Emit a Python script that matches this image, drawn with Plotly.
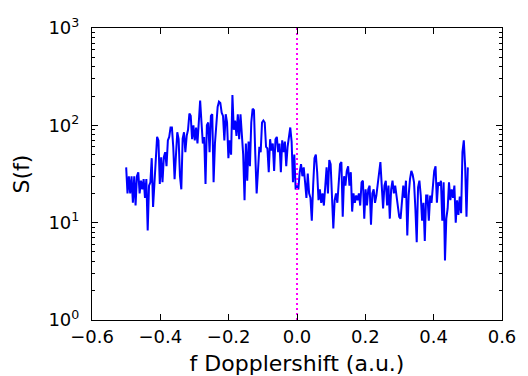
import numpy as np
import plotly.graph_objects as go

# S(f) readings along the frequency grid (-0.5 .. 0.5)
S = [37, 20, 30, 20, 30, 16, 30, 15, 30, 33, 20, 27, 22, 28, 18, 28, 8.3, 24, 26, 46,
     14.5, 26, 42, 76, 70, 25, 47, 26, 47, 53, 38, 70, 76, 95, 95, 60, 28, 53, 85, 72,
     30, 22,
     73, 85, 53, 78, 90, 132, 125, 72, 100, 70, 95, 65, 122, 180, 107, 65, 76, 25, 100, 107,
     53, 125, 130, 26, 65, 107, 155, 175, 170, 135, 125, 70, 130, 107, 46, 70, 50, 205,
     90, 112, 78, 130, 72, 130, 70, 50, 17, 65, 27, 68, 38, 107, 148, 143, 50, 20, 34, 60,
     53, 107, 112, 107, 60, 58, 33, 72, 55, 65, 34, 72, 76, 53, 65, 33, 70, 53, 68, 38,
     60, 82, 95, 68, 26, 50, 22, 24, 22, 33, 40, 30, 37, 26, 18, 32, 20, 18, 10.5, 24,
     46, 50, 33, 17, 22, 16, 20, 15, 24, 37, 20, 44, 40, 15, 8.7, 17, 20, 16, 27, 40,
     42, 11.5,
     30, 24, 34, 38, 24, 33, 13, 20, 16, 19, 17, 20, 15, 26, 27, 11, 22, 15, 22, 24,
     9.5, 20, 22, 16, 19, 24, 31, 42, 24, 14, 24, 27, 15, 24, 11, 22, 27, 20, 24, 19,
     16, 11.5,
     11, 18, 24, 18, 27, 7.4, 19, 28, 34, 31, 26, 14, 6.3, 23, 27, 19, 10.5, 16, 6.5, 19,
     19, 10.5, 19, 16, 24, 34, 38, 16, 26, 24, 27, 10.5, 26, 4.1, 11, 14, 26, 17, 22, 18,
     24, 10, 17, 12, 18.5, 12.5, 53, 70, 38, 11.5, 37]
f = np.linspace(-0.5, 0.5, len(S))

x_ticks = [-0.6, -0.4, -0.2, 0.0, 0.2, 0.4, 0.6]
x_ticktext = ["\u22120.6", "\u22120.4", "\u22120.2", "0.0", "0.2", "0.4", "0.6"]
y_ticks = [1, 10, 100, 1000]
y_ticktext = ["10<sup>0</sup>", "10<sup>1</sup>", "10<sup>2</sup>", "10<sup>3</sup>"]
y_minor = [m * 10 ** k for k in range(3) for m in range(2, 10)]

fig = go.Figure()
fig.add_trace(go.Scatter(x=f, y=S, mode="lines",
                         line=dict(color="#0000ff", width=2), showlegend=False))
fig.add_trace(go.Scatter(x=[0, 0], y=[1, 1000], mode="lines",
                         line=dict(color="#ff00ff", width=2, dash="2px,3px"), showlegend=False))

font = dict(family="DejaVu Sans", size=18, color="black")
# the page body adds an 8px offset, so the figure is sized to fit the window
fig.update_layout(
    width=520, height=368,
    margin=dict(l=84, r=26, t=20, b=56),
    paper_bgcolor="white", plot_bgcolor="white",
    font=font,
    xaxis=dict(range=[-0.6, 0.6], tickvals=x_ticks, ticktext=x_ticktext,
               showline=True, linecolor="black", linewidth=1.2, mirror="ticks",
               ticks="inside", ticklen=6, tickcolor="black", showgrid=False, zeroline=False,
               automargin=False, ticklabelstandoff=0,
               title=dict(text="f Dopplershift (a.u.)", standoff=24)),
    yaxis=dict(type="log", range=[0, 3], tickvals=y_ticks, ticktext=y_ticktext,
               showline=True, linecolor="black", linewidth=1.2, mirror="ticks",
               ticks="inside", ticklen=6, tickcolor="black", showgrid=False, zeroline=False,
               automargin=False, ticklabelstandoff=8,
               minor=dict(tickvals=y_minor, ticks="inside", ticklen=3, tickcolor="black",
                          showgrid=False),
               title=dict(text="S(f)", standoff=12)),
)
fig.write_html("out.html")
